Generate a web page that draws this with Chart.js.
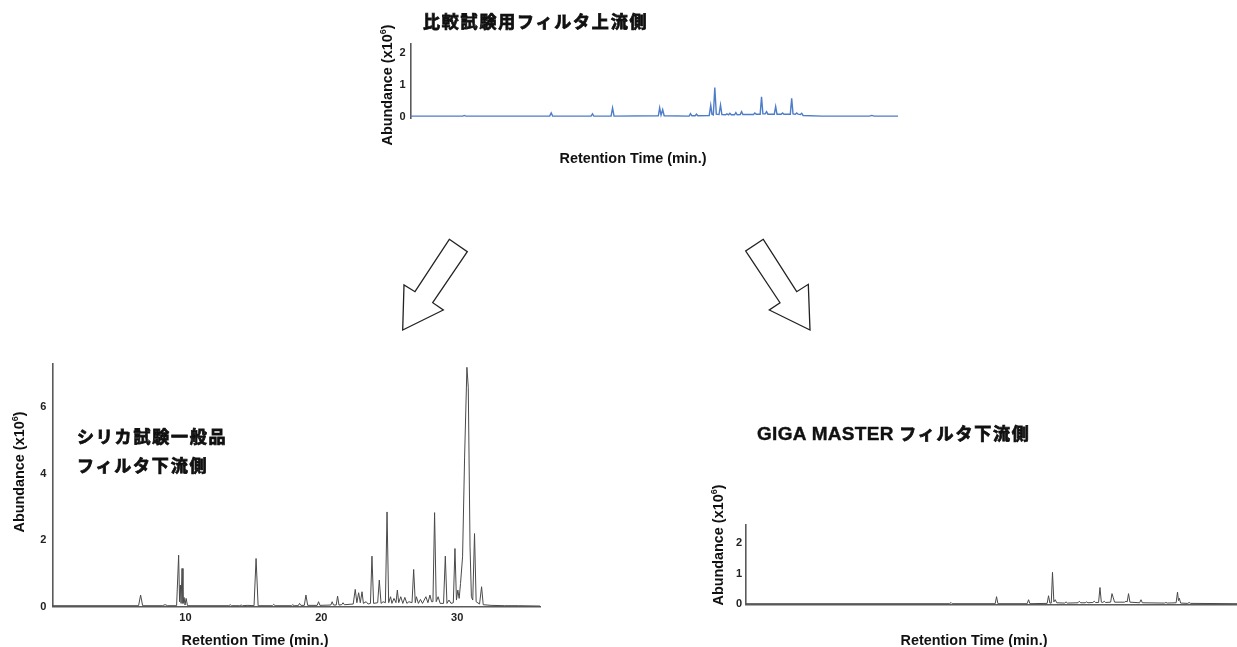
<!DOCTYPE html>
<html lang="ja">
<head>
<meta charset="utf-8">
<title>フィルタ上流側・下流側 クロマトグラム比較</title>
<script src="https://cdn.jsdelivr.net/npm/chart.js@4.4.1/dist/chart.umd.min.js"></script>
<style>
  html, body { margin: 0; padding: 0; background: #fff; }
  body { position: relative; width: 1237px; height: 647px; overflow: hidden; color: #111;
         font-family: "Liberation Sans", Arial, sans-serif; }
  canvas.layer { position: absolute; left: 0; top: 0; }
  svg.arrows { position: absolute; left: 0; top: 0; }
  .label { position: absolute; white-space: nowrap; font-weight: bold; line-height: 1; }
  .title { font-family: "Noto Sans CJK JP", sans-serif; font-size: 17px; font-weight: 700;
           letter-spacing: 1.8px; transform: translateY(-50%); -webkit-text-stroke: 0.8px #111; }
  .title .latin { font-family: "Liberation Sans", Arial, sans-serif; font-size: 19px; letter-spacing: 0.3px;
                  -webkit-text-stroke: 0.4px #111; }
  .axis { font-size: 14.4px; transform: translate(-50%, -50%); }
  .axis.y { transform: translate(-50%, -50%) rotate(-90deg); }
  .axis sup { font-size: 9px; vertical-align: 6px; line-height: 0; }
</style>
</head>
<body>

<canvas id="upstreamChart" class="layer" width="1237" height="647"></canvas>
<canvas id="silicaChart" class="layer" width="1237" height="647"></canvas>
<canvas id="gigaChart" class="layer" width="1237" height="647"></canvas>

<svg class="arrows" width="1237" height="647">
  <polygon points="449.3,239.3 467.3,251.7 432.7,302.7 443.3,310 402.7,330 404,285 415,291.7"
           fill="#fff" stroke="#222" stroke-width="1.3"/>
  <polygon points="763.3,239.3 745.7,251 780,302.7 769.3,310 810,330 808.3,284.3 796.7,291.7"
           fill="#fff" stroke="#222" stroke-width="1.3"/>
</svg>

<div class="label title" style="left:423px;top:20px">比較試験用フィルタ上流側</div>
<div class="label axis y" style="left:387px;top:85px">Abundance (x10<sup>6</sup>)</div>
<div class="label axis" style="left:633px;top:158px">Retention Time (min.)</div>

<div class="label title" style="left:77px;top:435px">シリカ試験一般品</div>
<div class="label title" style="left:77px;top:464px">フィルタ下流側</div>
<div class="label axis y" style="left:19px;top:472px">Abundance (x10<sup>6</sup>)</div>
<div class="label axis" style="left:255px;top:640px">Retention Time (min.)</div>

<div class="label title" style="left:757px;top:433px"><span class="latin">GIGA MASTER</span> フィルタ下流側</div>
<div class="label axis y" style="left:718px;top:545px">Abundance (x10<sup>6</sup>)</div>
<div class="label axis" style="left:974px;top:640px">Retention Time (min.)</div>

<script>
// retention time window shared by all three runs (min.)
const timeRange = [0.2, 36.1];

// 比較試験用フィルタ上流側 (x10^6)
const upstreamTimes = [
  0.15, 4.05, 4.16, 4.27, 10.45, 10.56, 10.67, 13.5, 13.6, 13.7,
  14.97, 15.08, 15.19, 18.45, 18.55, 18.65, 18.77, 18.88,
  20.72, 20.82, 20.92, 21.16, 21.26, 21.36,
  22.2, 22.31, 22.4, 22.5, 22.61, 22.72, 22.92, 23.03, 23.13,
  23.4, 23.5, 23.62, 23.72, 23.82, 24.06, 24.16, 24.26, 24.48, 24.58, 24.68,
  25.46, 25.56, 25.66, 25.95, 26.05, 26.15, 26.32, 26.42, 26.52,
  26.99, 27.09, 27.19, 27.5, 27.6, 27.7, 28.17, 28.27, 28.37,
  28.54, 28.64, 28.74, 28.91, 29.01, 29.11, 30.5, 34.0, 34.17, 34.35, 36.1
];
const upstreamAbundance = [
  0.02, 0.02, 0.04, 0.02, 0.02, 0.12, 0.02, 0.02, 0.09, 0.02,
  0.02, 0.28, 0.02, 0.03, 0.28, 0.05, 0.22, 0.03,
  0.02, 0.10, 0.03, 0.03, 0.08, 0.03,
  0.04, 0.36, 0.08, 0.06, 0.92, 0.08, 0.07, 0.37, 0.07,
  0.06, 0.09, 0.06, 0.11, 0.06, 0.06, 0.13, 0.06, 0.07, 0.16, 0.07,
  0.07, 0.12, 0.08, 0.08, 0.63, 0.09, 0.09, 0.16, 0.08,
  0.08, 0.32, 0.08, 0.08, 0.12, 0.08, 0.08, 0.58, 0.09,
  0.08, 0.12, 0.08, 0.07, 0.11, 0.04, 0.02, 0.02, 0.04, 0.02, 0.02
];
const upstreamTicks = [0, 1, 2];

// シリカ試験一般品 フィルタ下流側 (x10^6)
const silicaTimes = [
  0.2, 6.55, 6.7, 6.85, 8.3, 8.5, 8.7,
  9.35, 9.5, 9.57, 9.63, 9.68, 9.75, 9.82, 9.9, 9.97, 10.05, 10.15,
  13.2, 13.3, 13.4, 14.0, 14.1, 14.2, 14.6, 15.05, 15.2, 15.35,
  16.4, 16.5, 16.6, 17.8, 17.9, 18.0, 18.3, 18.4, 18.5, 18.75, 18.87, 19.0,
  19.7, 19.8, 19.9, 20.7, 20.8, 20.9, 21.1, 21.2, 21.3, 21.5, 21.6, 21.7,
  22.35, 22.5, 22.62, 22.75, 22.87, 23.0, 23.1, 23.3, 23.45,
  23.62, 23.73, 23.85, 24.15, 24.27, 24.4, 24.55, 24.72, 24.84, 24.96,
  25.1, 25.2, 25.35, 25.5, 25.6, 25.7, 25.85, 26.0, 26.15, 26.3, 26.45,
  26.68, 26.8, 26.92, 27.0, 27.15, 27.3, 27.45, 27.7, 27.85, 28.0, 28.12,
  28.22, 28.34, 28.46, 28.6, 28.75, 29.0, 29.13, 29.25, 29.4, 29.55,
  29.72, 29.84, 29.95, 30.05, 30.15, 30.25, 30.4, 30.55, 30.72, 30.82, 30.95, 31.05,
  31.15, 31.28, 31.4, 31.65, 31.8, 31.92, 32.5, 33.5, 34.5, 36.1
];
const silicaAbundance = [
  0.03, 0.03, 0.35, 0.03, 0.03, 0.06, 0.03,
  0.03, 1.55, 0.15, 0.65, 0.10, 1.15, 0.10, 0.28, 0.05, 0.25, 0.03,
  0.03, 0.06, 0.03, 0.03, 0.05, 0.03, 0.04, 0.03, 1.45, 0.03,
  0.03, 0.07, 0.03, 0.03, 0.06, 0.03, 0.03, 0.10, 0.04, 0.04, 0.35, 0.04,
  0.04, 0.15, 0.04, 0.05, 0.15, 0.05, 0.05, 0.32, 0.05, 0.06, 0.12, 0.06,
  0.08, 0.52, 0.12, 0.42, 0.12, 0.45, 0.10, 0.15, 0.08,
  0.10, 1.52, 0.10, 0.12, 0.80, 0.10, 0.15, 0.12, 2.85, 0.12,
  0.30, 0.10, 0.25, 0.12, 0.50, 0.12, 0.30, 0.10, 0.28, 0.10, 0.15,
  0.12, 1.12, 0.12, 0.30, 0.10, 0.22, 0.10, 0.30, 0.12, 0.35, 0.15,
  0.15, 2.83, 0.15, 0.30, 0.10, 0.10, 1.52, 0.10, 0.20, 0.10,
  0.12, 1.75, 0.20, 0.50, 0.25, 0.70, 1.50, 4.50, 7.20, 6.60, 1.80, 0.30,
  0.20, 2.20, 0.15, 0.08, 0.60, 0.06, 0.04, 0.03, 0.03, 0.02
];
const silicaYTicks = [0, 2, 4, 6];
const silicaXTicks = [10, 20, 30];

// GIGA MASTER フィルタ下流側 (x10^6)
const gigaTimes = [
  0.2, 15.1, 15.19, 15.28, 18.42, 18.52, 18.62, 20.76, 20.86, 20.96,
  22.22, 22.32, 22.42, 22.52, 22.61, 22.71, 22.81, 22.92,
  23.5, 23.6, 23.7, 24.47, 24.57, 24.67, 25.0, 25.1, 25.2, 25.56, 25.66, 25.76,
  25.98, 26.08, 26.18, 26.29, 26.39, 26.49, 26.86, 26.96, 27.05, 27.15,
  27.88, 27.98, 28.07, 28.17, 28.27, 28.98, 29.08, 29.18,
  30.8, 30.9, 31.0, 31.65, 31.75, 31.82, 31.88, 31.98, 32.5, 32.6, 32.7, 36.1
];
const gigaAbundance = [
  0.02, 0.02, 0.06, 0.02, 0.02, 0.25, 0.02, 0.02, 0.15, 0.02,
  0.03, 0.28, 0.04, 0.04, 1.05, 0.08, 0.15, 0.05,
  0.04, 0.08, 0.04, 0.05, 0.10, 0.05, 0.05, 0.08, 0.05, 0.06, 0.10, 0.06,
  0.06, 0.55, 0.07, 0.06, 0.10, 0.06, 0.07, 0.35, 0.22, 0.07,
  0.07, 0.10, 0.08, 0.35, 0.07, 0.05, 0.15, 0.05,
  0.04, 0.06, 0.04, 0.05, 0.40, 0.12, 0.20, 0.04, 0.03, 0.06, 0.03, 0.02
];
const gigaTicks = [0, 1, 2];

const tickFont = { family: 'Liberation Sans', size: 11, weight: 'bold' };

function toPoints(times, values) {
  return times.map((t, i) => ({ x: t, y: values[i] }));
}

function drawChromatogram(id, cfg) {
  const ctx = document.getElementById(id).getContext('2d');
  return new Chart(ctx, {
    type: 'line',
    data: {
      datasets: [{
        data: toPoints(cfg.times, cfg.values),
        borderColor: cfg.color,
        borderWidth: cfg.lineWidth,
        pointRadius: 0,
        tension: 0,
        fill: false
      }]
    },
    options: {
      responsive: false,
      animation: false,
      events: [],
      layout: { padding: cfg.padding },
      plugins: { legend: { display: false }, tooltip: { enabled: false } },
      scales: {
        x: {
          type: 'linear',
          min: timeRange[0],
          max: timeRange[1],
          display: cfg.xAxis,
          grid: { display: false, drawTicks: false },
          border: { display: true, color: '#5a5a5a', width: 1.6 },
          ticks: {
            display: !!cfg.xTicks,
            font: tickFont,
            color: '#222',
            padding: 5,
            maxRotation: 0
          },
          afterBuildTicks: axis => {
            if (cfg.xTicks) axis.ticks = cfg.xTicks.map(v => ({ value: v }));
          },
          afterFit: axis => { axis.height = cfg.xHeight; }
        },
        y: {
          min: cfg.yRange[0],
          max: cfg.yRange[1],
          grid: { display: false, drawTicks: false },
          border: { display: true, color: '#5a5a5a', width: 1.6 },
          ticks: { font: tickFont, color: '#222', padding: cfg.yPad },
          afterBuildTicks: axis => { axis.ticks = cfg.yTicks.map(v => ({ value: v })); },
          afterFit: axis => { axis.width = cfg.yWidth; }
        }
      }
    }
  });
}

drawChromatogram('upstreamChart', {
  times: upstreamTimes,
  values: upstreamAbundance,
  color: '#4d7cc9',
  lineWidth: 1.4,
  yRange: [-0.05, 2.3],
  yTicks: upstreamTicks,
  xAxis: false,
  xHeight: 0,
  yWidth: 40.5,
  yPad: 5,
  padding: { left: 370, right: 339, top: 43.8, bottom: 528.7 }
});

drawChromatogram('silicaChart', {
  times: silicaTimes,
  values: silicaAbundance,
  color: '#4a4a4a',
  lineWidth: 1,
  yRange: [0, 7.3],
  yTicks: silicaYTicks,
  xTicks: silicaXTicks,
  xAxis: true,
  xHeight: 20,
  yWidth: 42.3,
  yPad: 6,
  padding: { left: 10, right: 697, top: 364, bottom: 20.3 }
});

drawChromatogram('gigaChart', {
  times: gigaTimes,
  values: gigaAbundance,
  color: '#4a4a4a',
  lineWidth: 1,
  yRange: [0, 2.6],
  yTicks: gigaTicks,
  xAxis: true,
  xHeight: 6,
  yWidth: 46,
  yPad: 4,
  padding: { left: 700, right: 0, top: 525, bottom: 36.7 }
});
</script>
</body>
</html>
